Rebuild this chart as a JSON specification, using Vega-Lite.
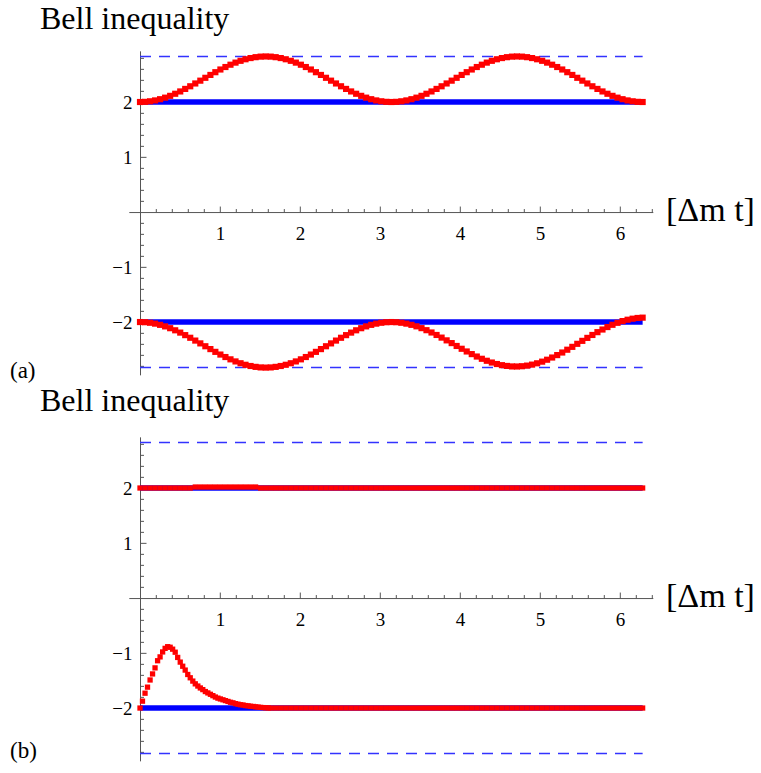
{
"$schema": "https://vega.github.io/schema/vega-lite/v6.json",
"autosize": {"type": "none"},
"padding": {"left": 128.8, "top": 50.85, "right": 632.2, "bottom": 722.15},
"background": "white",
"config": {"view": {"stroke": null}, "axis": {"grid": false, "labelFont": "Liberation Serif", "labelFontSize": 19, "labelColor": "#000000", "domainColor": "#555555", "tickColor": "#555555", "domainWidth": 1, "tickWidth": 1, "labelFlush": false, "labelOverlap": false}},
"datasets": {
"ra": [
{"t":0,"s":2},{"t":0.063,"s":2.003},{"t":0.126,"s":2.013},{"t":0.188,"s":2.029},{"t":0.251,"s":2.051},{"t":0.314,"s":2.079},{"t":0.377,"s":2.112},{"t":0.44,"s":2.15},{"t":0.503,"s":2.192},{"t":0.565,"s":2.238},{"t":0.628,"s":2.286},{"t":0.691,"s":2.337},{"t":0.754,"s":2.388},{"t":0.817,"s":2.44},{"t":0.88,"s":2.492},{"t":0.942,"s":2.542},{"t":1.005,"s":2.591},{"t":1.068,"s":2.636},{"t":1.131,"s":2.678},{"t":1.194,"s":2.716},{"t":1.257,"s":2.749},{"t":1.319,"s":2.777},{"t":1.382,"s":2.799},{"t":1.445,"s":2.815},{"t":1.508,"s":2.825},{"t":1.571,"s":2.828},{"t":1.634,"s":2.825},{"t":1.696,"s":2.815},{"t":1.759,"s":2.799},{"t":1.822,"s":2.777},{"t":1.885,"s":2.749},{"t":1.948,"s":2.716},{"t":2.011,"s":2.678},{"t":2.073,"s":2.636},{"t":2.136,"s":2.591},{"t":2.199,"s":2.542},{"t":2.262,"s":2.492},{"t":2.325,"s":2.44},{"t":2.388,"s":2.388},{"t":2.45,"s":2.337},{"t":2.513,"s":2.286},{"t":2.576,"s":2.238},{"t":2.639,"s":2.192},{"t":2.702,"s":2.15},{"t":2.765,"s":2.112},{"t":2.827,"s":2.079},{"t":2.89,"s":2.051},{"t":2.953,"s":2.029},{"t":3.016,"s":2.013},{"t":3.079,"s":2.003},{"t":3.142,"s":2},{"t":3.204,"s":2.003},{"t":3.267,"s":2.013},{"t":3.33,"s":2.029},{"t":3.393,"s":2.051},{"t":3.456,"s":2.079},{"t":3.519,"s":2.112},{"t":3.581,"s":2.15},{"t":3.644,"s":2.192},{"t":3.707,"s":2.238},{"t":3.77,"s":2.286},{"t":3.833,"s":2.337},{"t":3.896,"s":2.388},{"t":3.958,"s":2.44},{"t":4.021,"s":2.492},{"t":4.084,"s":2.542},{"t":4.147,"s":2.591},{"t":4.21,"s":2.636},{"t":4.273,"s":2.678},{"t":4.335,"s":2.716},{"t":4.398,"s":2.749},{"t":4.461,"s":2.777},{"t":4.524,"s":2.799},{"t":4.587,"s":2.815},{"t":4.65,"s":2.825},{"t":4.712,"s":2.828},{"t":4.775,"s":2.825},{"t":4.838,"s":2.815},{"t":4.901,"s":2.799},{"t":4.964,"s":2.777},{"t":5.027,"s":2.749},{"t":5.089,"s":2.716},{"t":5.152,"s":2.678},{"t":5.215,"s":2.636},{"t":5.278,"s":2.591},{"t":5.341,"s":2.542},{"t":5.404,"s":2.492},{"t":5.466,"s":2.44},{"t":5.529,"s":2.388},{"t":5.592,"s":2.337},{"t":5.655,"s":2.286},{"t":5.718,"s":2.238},{"t":5.781,"s":2.192},{"t":5.843,"s":2.15},{"t":5.906,"s":2.112},{"t":5.969,"s":2.079},{"t":6.032,"s":2.051},{"t":6.095,"s":2.029},{"t":6.158,"s":2.013},{"t":6.22,"s":2.003},{"t":6.283,"s":2},
{"t":0,"s":-2},{"t":0.063,"s":-2.003},{"t":0.126,"s":-2.013},{"t":0.188,"s":-2.029},{"t":0.251,"s":-2.051},{"t":0.314,"s":-2.079},{"t":0.377,"s":-2.112},{"t":0.44,"s":-2.15},{"t":0.503,"s":-2.192},{"t":0.565,"s":-2.238},{"t":0.628,"s":-2.286},{"t":0.691,"s":-2.337},{"t":0.754,"s":-2.388},{"t":0.817,"s":-2.44},{"t":0.88,"s":-2.492},{"t":0.942,"s":-2.542},{"t":1.005,"s":-2.591},{"t":1.068,"s":-2.636},{"t":1.131,"s":-2.678},{"t":1.194,"s":-2.716},{"t":1.257,"s":-2.749},{"t":1.319,"s":-2.777},{"t":1.382,"s":-2.799},{"t":1.445,"s":-2.815},{"t":1.508,"s":-2.825},{"t":1.571,"s":-2.828},{"t":1.634,"s":-2.825},{"t":1.696,"s":-2.815},{"t":1.759,"s":-2.799},{"t":1.822,"s":-2.777},{"t":1.885,"s":-2.749},{"t":1.948,"s":-2.716},{"t":2.011,"s":-2.678},{"t":2.073,"s":-2.636},{"t":2.136,"s":-2.591},{"t":2.199,"s":-2.542},{"t":2.262,"s":-2.492},{"t":2.325,"s":-2.44},{"t":2.388,"s":-2.388},{"t":2.45,"s":-2.337},{"t":2.513,"s":-2.286},{"t":2.576,"s":-2.238},{"t":2.639,"s":-2.192},{"t":2.702,"s":-2.15},{"t":2.765,"s":-2.112},{"t":2.827,"s":-2.079},{"t":2.89,"s":-2.051},{"t":2.953,"s":-2.029},{"t":3.016,"s":-2.013},{"t":3.079,"s":-2.003},{"t":3.142,"s":-2},{"t":3.204,"s":-2.003},{"t":3.267,"s":-2.013},{"t":3.33,"s":-2.029},{"t":3.393,"s":-2.051},{"t":3.456,"s":-2.078},{"t":3.519,"s":-2.111},{"t":3.581,"s":-2.148},{"t":3.644,"s":-2.19},{"t":3.707,"s":-2.235},{"t":3.77,"s":-2.283},{"t":3.833,"s":-2.333},{"t":3.896,"s":-2.383},{"t":3.958,"s":-2.435},{"t":4.021,"s":-2.486},{"t":4.084,"s":-2.535},{"t":4.147,"s":-2.583},{"t":4.21,"s":-2.627},{"t":4.273,"s":-2.668},{"t":4.335,"s":-2.704},{"t":4.398,"s":-2.736},{"t":4.461,"s":-2.763},{"t":4.524,"s":-2.784},{"t":4.587,"s":-2.798},{"t":4.65,"s":-2.807},{"t":4.712,"s":-2.808},{"t":4.775,"s":-2.803},{"t":4.838,"s":-2.792},{"t":4.901,"s":-2.774},{"t":4.964,"s":-2.75},{"t":5.027,"s":-2.72},{"t":5.089,"s":-2.685},{"t":5.152,"s":-2.645},{"t":5.215,"s":-2.601},{"t":5.278,"s":-2.554},{"t":5.341,"s":-2.503},{"t":5.404,"s":-2.451},{"t":5.466,"s":-2.396},{"t":5.529,"s":-2.342},{"t":5.592,"s":-2.288},{"t":5.655,"s":-2.235},{"t":5.718,"s":-2.184},{"t":5.781,"s":-2.136},{"t":5.843,"s":-2.091},{"t":5.906,"s":-2.05},{"t":5.969,"s":-2.014},{"t":6.032,"s":-1.983},{"t":6.095,"s":-1.958},{"t":6.158,"s":-1.939},{"t":6.22,"s":-1.926},{"t":6.283,"s":-1.92}
],
"rb": [
{"t":0,"s":2},{"t":0.063,"s":2},{"t":0.126,"s":2},{"t":0.188,"s":2},{"t":0.251,"s":2},{"t":0.314,"s":2},{"t":0.377,"s":2},{"t":0.44,"s":2},{"t":0.503,"s":2},{"t":0.565,"s":2},{"t":0.628,"s":2},{"t":0.691,"s":2.018},{"t":0.754,"s":2.018},{"t":0.817,"s":2.018},{"t":0.88,"s":2.018},{"t":0.942,"s":2.018},{"t":1.005,"s":2.018},{"t":1.068,"s":2.018},{"t":1.131,"s":2.018},{"t":1.194,"s":2.018},{"t":1.257,"s":2.018},{"t":1.319,"s":2.018},{"t":1.382,"s":2.018},{"t":1.445,"s":2.018},{"t":1.508,"s":2},{"t":1.571,"s":2},{"t":1.634,"s":2},{"t":1.696,"s":2},{"t":1.759,"s":2},{"t":1.822,"s":2},{"t":1.885,"s":2},{"t":1.948,"s":2},{"t":2.011,"s":2},{"t":2.073,"s":2},{"t":2.136,"s":2},{"t":2.199,"s":2},{"t":2.262,"s":2},{"t":2.325,"s":2},{"t":2.388,"s":2},{"t":2.45,"s":2},{"t":2.513,"s":2},{"t":2.576,"s":2},{"t":2.639,"s":2},{"t":2.702,"s":2},{"t":2.765,"s":2},{"t":2.827,"s":2},{"t":2.89,"s":2},{"t":2.953,"s":2},{"t":3.016,"s":2},{"t":3.079,"s":2},{"t":3.142,"s":2},{"t":3.204,"s":2},{"t":3.267,"s":2},{"t":3.33,"s":2},{"t":3.393,"s":2},{"t":3.456,"s":2},{"t":3.519,"s":2},{"t":3.581,"s":2},{"t":3.644,"s":2},{"t":3.707,"s":2},{"t":3.77,"s":2},{"t":3.833,"s":2},{"t":3.896,"s":2},{"t":3.958,"s":2},{"t":4.021,"s":2},{"t":4.084,"s":2},{"t":4.147,"s":2},{"t":4.21,"s":2},{"t":4.273,"s":2},{"t":4.335,"s":2},{"t":4.398,"s":2},{"t":4.461,"s":2},{"t":4.524,"s":2},{"t":4.587,"s":2},{"t":4.65,"s":2},{"t":4.712,"s":2},{"t":4.775,"s":2},{"t":4.838,"s":2},{"t":4.901,"s":2},{"t":4.964,"s":2},{"t":5.027,"s":2},{"t":5.089,"s":2},{"t":5.152,"s":2},{"t":5.215,"s":2},{"t":5.278,"s":2},{"t":5.341,"s":2},{"t":5.404,"s":2},{"t":5.466,"s":2},{"t":5.529,"s":2},{"t":5.592,"s":2},{"t":5.655,"s":2},{"t":5.718,"s":2},{"t":5.781,"s":2},{"t":5.843,"s":2},{"t":5.906,"s":2},{"t":5.969,"s":2},{"t":6.032,"s":2},{"t":6.095,"s":2},{"t":6.158,"s":2},{"t":6.22,"s":2},{"t":6.283,"s":2},
{"t":0,"s":-2},{"t":0.031,"s":-1.875},{"t":0.063,"s":-1.73},{"t":0.094,"s":-1.62},{"t":0.126,"s":-1.49},{"t":0.157,"s":-1.38},{"t":0.188,"s":-1.27},{"t":0.22,"s":-1.14},{"t":0.251,"s":-1.07},{"t":0.283,"s":-0.98},{"t":0.314,"s":-0.915},{"t":0.346,"s":-0.885},{"t":0.377,"s":-0.895},{"t":0.408,"s":-0.93},{"t":0.44,"s":-0.985},{"t":0.471,"s":-1.08},{"t":0.503,"s":-1.165},{"t":0.534,"s":-1.24},{"t":0.565,"s":-1.31},{"t":0.597,"s":-1.39},{"t":0.628,"s":-1.45},{"t":0.66,"s":-1.51},{"t":0.691,"s":-1.56},{"t":0.723,"s":-1.6},{"t":0.754,"s":-1.635},{"t":0.785,"s":-1.665},{"t":0.817,"s":-1.7},{"t":0.848,"s":-1.725},{"t":0.88,"s":-1.75},{"t":0.911,"s":-1.775},{"t":0.942,"s":-1.8},{"t":0.974,"s":-1.82},{"t":1.005,"s":-1.835},{"t":1.037,"s":-1.85},{"t":1.068,"s":-1.865},{"t":1.1,"s":-1.88},{"t":1.131,"s":-1.895},{"t":1.162,"s":-1.905},{"t":1.194,"s":-1.92},{"t":1.225,"s":-1.93},{"t":1.257,"s":-1.94},{"t":1.288,"s":-1.945},{"t":1.319,"s":-1.955},{"t":1.351,"s":-1.96},{"t":1.382,"s":-1.967},{"t":1.414,"s":-1.972},{"t":1.445,"s":-1.978},{"t":1.477,"s":-1.983},{"t":1.508,"s":-1.988},{"t":1.539,"s":-1.992},{"t":1.571,"s":-1.995},{"t":1.602,"s":-1.998},
{"t":1.634,"s":-2},{"t":1.696,"s":-2},{"t":1.759,"s":-2},{"t":1.822,"s":-2},{"t":1.885,"s":-2},{"t":1.948,"s":-2},{"t":2.011,"s":-2},{"t":2.073,"s":-2},{"t":2.136,"s":-2},{"t":2.199,"s":-2},{"t":2.262,"s":-2},{"t":2.325,"s":-2},{"t":2.388,"s":-2},{"t":2.45,"s":-2},{"t":2.513,"s":-2},{"t":2.576,"s":-2},{"t":2.639,"s":-2},{"t":2.702,"s":-2},{"t":2.765,"s":-2},{"t":2.827,"s":-2},{"t":2.89,"s":-2},{"t":2.953,"s":-2},{"t":3.016,"s":-2},{"t":3.079,"s":-2},{"t":3.142,"s":-2},{"t":3.204,"s":-2},{"t":3.267,"s":-2},{"t":3.33,"s":-2},{"t":3.393,"s":-2},{"t":3.456,"s":-2},{"t":3.519,"s":-2},{"t":3.581,"s":-2},{"t":3.644,"s":-2},{"t":3.707,"s":-2},{"t":3.77,"s":-2},{"t":3.833,"s":-2},{"t":3.896,"s":-2},{"t":3.958,"s":-2},{"t":4.021,"s":-2},{"t":4.084,"s":-2},{"t":4.147,"s":-2},{"t":4.21,"s":-2},{"t":4.273,"s":-2},{"t":4.335,"s":-2},{"t":4.398,"s":-2},{"t":4.461,"s":-2},{"t":4.524,"s":-2},{"t":4.587,"s":-2},{"t":4.65,"s":-2},{"t":4.712,"s":-2},{"t":4.775,"s":-2},{"t":4.838,"s":-2},{"t":4.901,"s":-2},{"t":4.964,"s":-2},{"t":5.027,"s":-2},{"t":5.089,"s":-2},{"t":5.152,"s":-2},{"t":5.215,"s":-2},{"t":5.278,"s":-2},{"t":5.341,"s":-2},{"t":5.404,"s":-2},{"t":5.466,"s":-2},{"t":5.529,"s":-2},{"t":5.592,"s":-2},{"t":5.655,"s":-2},{"t":5.718,"s":-2},{"t":5.781,"s":-2},{"t":5.843,"s":-2},{"t":5.906,"s":-2},{"t":5.969,"s":-2},{"t":6.032,"s":-2},{"t":6.095,"s":-2},{"t":6.158,"s":-2},{"t":6.22,"s":-2},{"t":6.283,"s":-2}
],
"bounds": [{"b":2.828,"t0":0,"t1":6.283},{"b":-2.828,"t0":0,"t1":6.283}],
"classical": [{"b":2,"t0":0,"t1":6.283},{"b":-2,"t0":0,"t1":6.283}],
"one": [{}]
},
"spacing": 62,
"bounds": "flush",
"vconcat": [
{
"width": 524, "height": 324,
"resolve": {"axis": {"x": "independent", "y": "independent"}},
"layer": [
{"data": {"name": "bounds"}, "mark": {"type": "rule", "color": "#3333ff", "strokeWidth": 1.5, "strokeDash": [11, 8]},
 "encoding": {
  "x": {"field": "t0", "type": "quantitative", "scale": {"domain": [-0.14, 6.41], "nice": false, "zero": false}, "axis": {"orient": "bottom", "offset": -162.8, "values": [1,2,3,4,5,6], "tickSize": -6, "labelPadding": 18, "title": null}},
  "x2": {"field": "t1"},
  "y": {"field": "b", "type": "quantitative", "scale": {"domain": [-2.96, 2.93], "nice": false, "zero": false}, "axis": {"orient": "left", "offset": -11.2, "values": [-2,-1,1,2], "tickSize": -6, "labelPadding": 14, "title": null}}}},
{"data": {"name": "classical"}, "mark": {"type": "rule", "color": "#0000ff", "strokeWidth": 5.5},
 "encoding": {
  "x": {"field": "t0", "type": "quantitative", "scale": {"domain": [-0.14, 6.41], "nice": false, "zero": false}, "axis": {"orient": "bottom", "offset": -162.8, "values": [0.2,0.4,0.6,0.8,1.2,1.4,1.6,1.8,2.2,2.4,2.6,2.8,3.2,3.4,3.6,3.8,4.2,4.4,4.6,4.8,5.2,5.4,5.6,5.8,6.2,6.4], "tickSize": -3.5, "labels": false, "domain": false, "title": null}},
  "x2": {"field": "t1"},
  "y": {"field": "b", "type": "quantitative", "scale": {"domain": [-2.96, 2.93], "nice": false, "zero": false}, "axis": {"orient": "left", "offset": -11.2, "values": [-2.8,-2.6,-2.4,-2.2,-1.8,-1.6,-1.4,-1.2,-0.8,-0.6,-0.4,-0.2,0.2,0.4,0.6,0.8,1.2,1.4,1.6,1.8,2.2,2.4,2.6,2.8], "tickSize": -3.5, "labels": false, "domain": false, "title": null}}}},
{"data": {"name": "ra"}, "mark": {"type": "point", "shape": "square", "filled": true, "size": 38, "color": "#ff0000", "opacity": 1},
 "encoding": {
  "x": {"field": "t", "type": "quantitative", "scale": {"domain": [-0.14, 6.41], "nice": false, "zero": false}, "axis": null},
  "y": {"field": "s", "type": "quantitative", "scale": {"domain": [-2.96, 2.93], "nice": false, "zero": false}, "axis": null}}},
{"data": {"name": "one"}, "mark": {"type": "text", "text": "Bell inequality", "font": "Liberation Serif", "fontSize": 32, "align": "left", "baseline": "alphabetic", "color": "#000000"},
 "encoding": {"x": {"datum": -1.25, "type": "quantitative", "axis": null}, "y": {"datum": 3.336, "type": "quantitative", "axis": null}}},
{"data": {"name": "one"}, "mark": {"type": "text", "text": "[Δm t]", "font": "Liberation Serif", "fontSize": 34, "align": "left", "baseline": "alphabetic", "color": "#000000"},
 "encoding": {"x": {"datum": 6.575, "type": "quantitative", "axis": null}, "y": {"datum": -0.17, "type": "quantitative", "axis": null}}},
{"data": {"name": "one"}, "mark": {"type": "text", "text": "(a)", "font": "Liberation Serif", "fontSize": 23, "align": "left", "baseline": "alphabetic", "color": "#000000"},
 "encoding": {"x": {"datum": -1.625, "type": "quantitative", "axis": null}, "y": {"datum": -3.02, "type": "quantitative", "axis": null}}}
]
},
{
"width": 524, "height": 324,
"resolve": {"axis": {"x": "independent", "y": "independent"}},
"layer": [
{"data": {"name": "bounds"}, "mark": {"type": "rule", "color": "#3333ff", "strokeWidth": 1.5, "strokeDash": [11, 8]},
 "encoding": {
  "x": {"field": "t0", "type": "quantitative", "scale": {"domain": [-0.14, 6.41], "nice": false, "zero": false}, "axis": {"orient": "bottom", "offset": -162.8, "values": [1,2,3,4,5,6], "tickSize": -6, "labelPadding": 18, "title": null}},
  "x2": {"field": "t1"},
  "y": {"field": "b", "type": "quantitative", "scale": {"domain": [-2.96, 2.93], "nice": false, "zero": false}, "axis": {"orient": "left", "offset": -11.2, "values": [-2,-1,1,2], "tickSize": -6, "labelPadding": 14, "title": null}}}},
{"data": {"name": "classical"}, "mark": {"type": "rule", "color": "#0000ff", "strokeWidth": 5.5},
 "encoding": {
  "x": {"field": "t0", "type": "quantitative", "scale": {"domain": [-0.14, 6.41], "nice": false, "zero": false}, "axis": {"orient": "bottom", "offset": -162.8, "values": [0.2,0.4,0.6,0.8,1.2,1.4,1.6,1.8,2.2,2.4,2.6,2.8,3.2,3.4,3.6,3.8,4.2,4.4,4.6,4.8,5.2,5.4,5.6,5.8,6.2,6.4], "tickSize": -3.5, "labels": false, "domain": false, "title": null}},
  "x2": {"field": "t1"},
  "y": {"field": "b", "type": "quantitative", "scale": {"domain": [-2.96, 2.93], "nice": false, "zero": false}, "axis": {"orient": "left", "offset": -11.2, "values": [-2.8,-2.6,-2.4,-2.2,-1.8,-1.6,-1.4,-1.2,-0.8,-0.6,-0.4,-0.2,0.2,0.4,0.6,0.8,1.2,1.4,1.6,1.8,2.2,2.4,2.6,2.8], "tickSize": -3.5, "labels": false, "domain": false, "title": null}}}},
{"data": {"name": "rb"}, "mark": {"type": "point", "shape": "square", "filled": true, "size": 28, "color": "#ff0000", "opacity": 1},
 "encoding": {
  "x": {"field": "t", "type": "quantitative", "scale": {"domain": [-0.14, 6.41], "nice": false, "zero": false}, "axis": null},
  "y": {"field": "s", "type": "quantitative", "scale": {"domain": [-2.96, 2.93], "nice": false, "zero": false}, "axis": null}}},
{"data": {"name": "one"}, "mark": {"type": "text", "text": "Bell inequality", "font": "Liberation Serif", "fontSize": 32, "align": "left", "baseline": "alphabetic", "color": "#000000"},
 "encoding": {"x": {"datum": -1.25, "type": "quantitative", "axis": null}, "y": {"datum": 3.4, "type": "quantitative", "axis": null}}},
{"data": {"name": "one"}, "mark": {"type": "text", "text": "[Δm t]", "font": "Liberation Serif", "fontSize": 34, "align": "left", "baseline": "alphabetic", "color": "#000000"},
 "encoding": {"x": {"datum": 6.575, "type": "quantitative", "axis": null}, "y": {"datum": -0.17, "type": "quantitative", "axis": null}}},
{"data": {"name": "one"}, "mark": {"type": "text", "text": "(b)", "font": "Liberation Serif", "fontSize": 23, "align": "left", "baseline": "alphabetic", "color": "#000000"},
 "encoding": {"x": {"datum": -1.625, "type": "quantitative", "axis": null}, "y": {"datum": -2.9, "type": "quantitative", "axis": null}}}
]
}
]
}
